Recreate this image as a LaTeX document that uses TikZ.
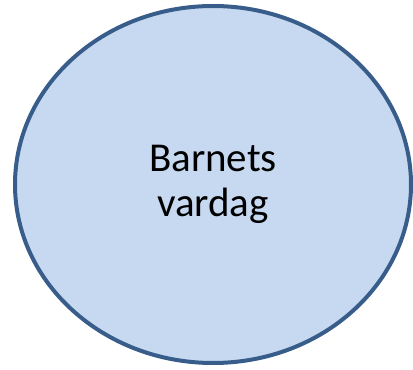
\documentclass[tikz,border=0pt]{standalone}
\usepackage{fontspec}
\setmainfont{Carlito}
\usetikzlibrary{shapes.geometric}
\definecolor{fillblue}{HTML}{C6D9F1}
\definecolor{lineblue}{HTML}{385D8A}
\tikzset{
  bubble/.style={ellipse, draw=lineblue, fill=fillblue, line width=4pt,
    minimum width=396pt, minimum height=357pt, inner sep=0pt,
    align=center, font=\fontsize{41}{45}\selectfont}
}
\begin{document}
\begin{tikzpicture}[x=1pt,y=1pt]
    \useasboundingbox (0,0) rectangle (413,370);

    % Main ellipse
    \node[bubble] (vardag) at (213,185.5) {Barnets\\vardag};
  \end{tikzpicture}
\end{document}
